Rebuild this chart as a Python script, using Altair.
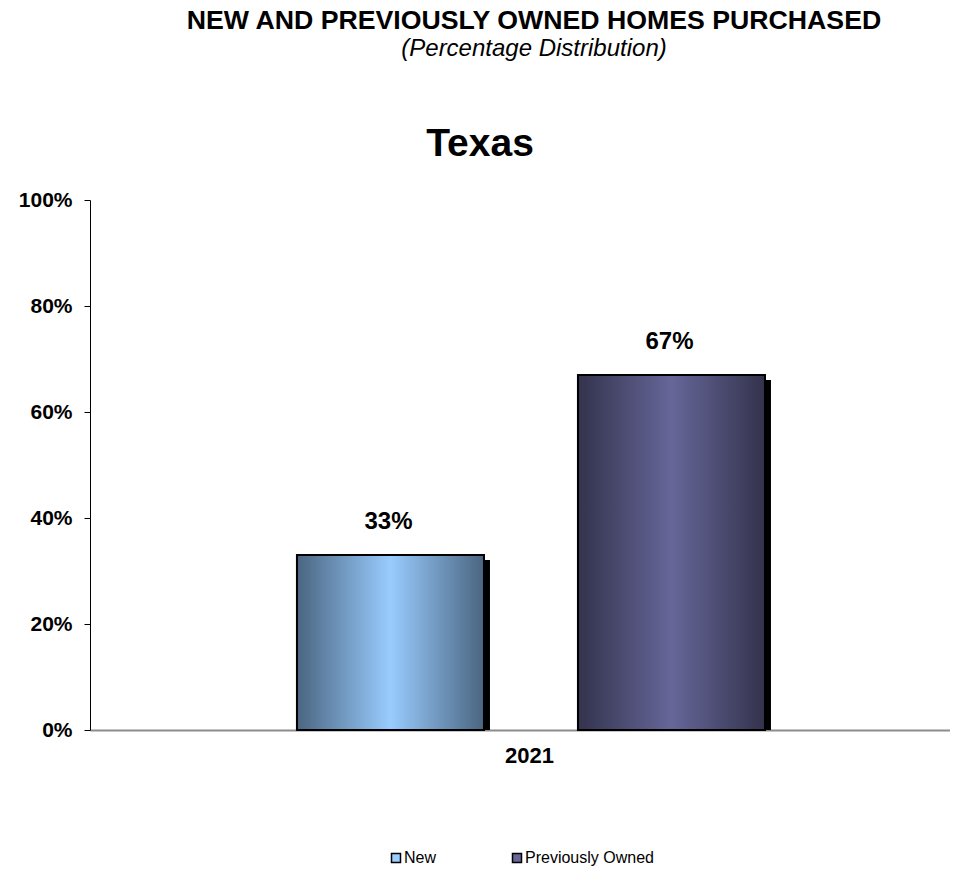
import altair as alt
import pandas as pd

years = ["2021"]
types = ["New", "Previously Owned"]
shares = [0.33, 0.67]
label_texts = ["33%", "67%"]
y_ticks = [0, 0.2, 0.4, 0.6, 0.8, 1.0]

df = pd.DataFrame({
    "year": [years[0]] * len(types),
    "type": types,
    "share": shares,
    "label": label_texts,
})

solid_colors = ["#99ccff", "#666699"]
edge_colors = ["#4a6580", "#33334d"]

FONT = "Liberation Sans"
PLOT_H = 530
SHADOW_DROP_PX = 5

x_enc = alt.X(
    "type:N",
    sort=types,
    scale=alt.Scale(domain=types, paddingInner=0.3345, paddingOuter=0.6975, align=0.528),
    axis=alt.Axis(title=years[0], labels=False, ticks=False,
                  titleFontSize=22, titleFontWeight="bold", titleColor="black",
                  titleX=439, titlePadding=15,
                  domainColor="#8c8c8c", domainWidth=2),
)
y_scale = alt.Scale(domain=[0, 1])
y_enc = alt.Y(
    "share:Q",
    scale=y_scale,
    axis=alt.Axis(title=None, values=y_ticks, format=".0%", grid=False,
                  labelFontSize=21, labelFontWeight="bold", labelColor="black",
                  tickSize=6, labelPadding=12, domainColor="black", tickColor="black"),
)

base = alt.Chart(df).encode(x=x_enc, y=y_enc)

# drop shadow: same bar, top lowered by a few pixels (in data units), shifted right
shadow = alt.Chart(df).transform_calculate(
    shadow_top=f"datum.share - {SHADOW_DROP_PX / PLOT_H}"
).mark_bar(color="black", xOffset=6).encode(
    x=x_enc,
    y=alt.Y("shadow_top:Q", scale=y_scale, title=None),
)

colored = base.mark_bar(stroke="black", strokeWidth=2).encode(
    color=alt.Color(
        "type:N",
        sort=types,
        scale=alt.Scale(domain=types, range=solid_colors),
        legend=alt.Legend(
            title=None, orient="none", direction="horizontal",
            legendX=298, legendY=650,
            labelFontSize=16, labelColor="black", symbolType="square", symbolSize=81,
            symbolStrokeColor="black", symbolStrokeWidth=1.5, columnPadding=72,
            labelOffset=0,
        ),
    )
)

grad_layers = []
for t, c_mid, c_edge in zip(types, solid_colors, edge_colors):
    grad = alt.LinearGradient(
        gradient="linear",
        stops=[
            alt.GradientStop(offset=0, color=c_edge),
            alt.GradientStop(offset=0.5, color=c_mid),
            alt.GradientStop(offset=1, color=c_edge),
        ],
        x1=0, x2=1, y1=0, y2=0,
    )
    grad_layers.append(
        base.transform_filter(alt.datum.type == t).mark_bar(
            fill=grad, stroke="black", strokeWidth=2
        )
    )

labels = base.mark_text(
    dy=-33, dx=-2, fontSize=24, fontWeight="bold", color="black", baseline="middle"
).encode(text="label:N")

layered = alt.layer(shadow, colored, *grad_layers, labels).properties(
    width=860,
    height=PLOT_H,
    title=alt.TitleParams("Texas", fontSize=39, fontWeight="bold", color="black",
                          anchor="middle", dx=-40, offset=25),
)

chart = alt.vconcat(
    layered,
    title=alt.TitleParams(
        "NEW AND PREVIOUSLY OWNED HOMES PURCHASED",
        subtitle="(Percentage Distribution)",
        fontSize=26.7, fontWeight="bold", color="black",
        subtitleFontSize=24, subtitleFontStyle="italic", subtitleColor="black",
        subtitleFont=FONT, subtitlePadding=2,
        anchor="middle", frame="group", dx=14, offset=64,
    ),
    padding={"left": 10, "top": 0, "right": 0, "bottom": 0},
).configure(font=FONT).configure_view(stroke=None)

chart.save("out.html", embed_options={"renderer": "svg", "actions": False})
